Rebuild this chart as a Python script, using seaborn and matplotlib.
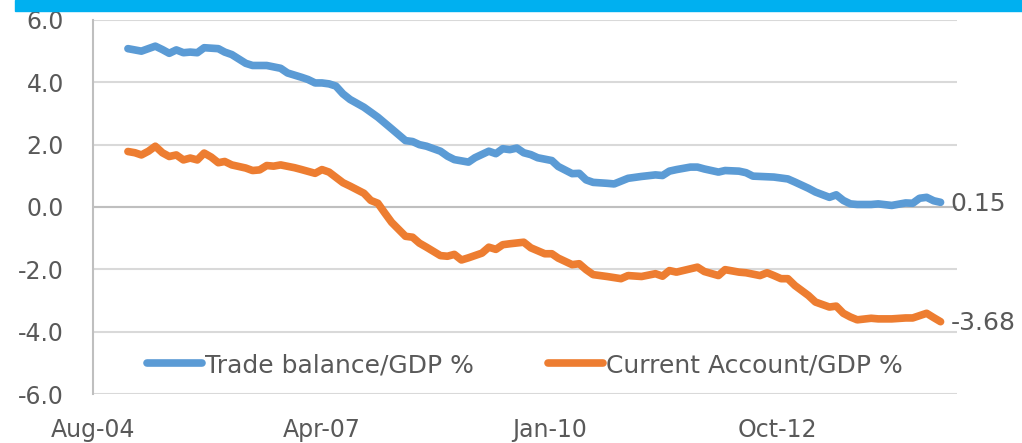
import pandas as pd
import numpy as np
import seaborn as sns
import matplotlib.pyplot as plt
from matplotlib.patches import Rectangle

# values (monthly, % of GDP)
trade_months = ["2005-01","2005-03","2005-05","2005-06","2005-07","2005-08","2005-09","2005-10",
                "2005-11","2005-12","2006-02","2006-03","2006-04","2006-06","2006-07","2006-09",
                "2006-11","2006-12","2007-02","2007-03","2007-04","2007-05","2007-06","2007-07",
                "2007-08","2007-09","2007-11","2008-01","2008-03","2008-05","2008-06","2008-07",
                "2008-08","2008-10","2008-11","2008-12","2009-02","2009-03","2009-05","2009-06",
                "2009-07","2009-08","2009-09","2009-10","2009-11","2009-12","2010-02","2010-03",
                "2010-05","2010-06","2010-07","2010-08","2010-10","2010-11","2011-01","2011-03",
                "2011-05","2011-06","2011-07","2011-08","2011-10","2011-11","2011-12","2012-02",
                "2012-03","2012-05","2012-06","2012-07","2012-08","2012-10","2012-12","2013-01",
                "2013-03","2013-04","2013-06","2013-07","2013-08","2013-09","2013-10","2013-12",
                "2014-01","2014-03","2014-05","2014-06","2014-07","2014-08","2014-09","2014-10"]
trade_vals = [5.08,5.00,5.16,5.05,4.93,5.04,4.95,4.97,
              4.95,5.11,5.08,4.97,4.89,4.61,4.54,4.54,
              4.45,4.30,4.16,4.09,3.98,3.98,3.95,3.88,
              3.63,3.45,3.20,2.88,2.51,2.13,2.10,2.00,
              1.95,1.79,1.63,1.52,1.44,1.58,1.79,1.71,
              1.87,1.84,1.89,1.74,1.68,1.58,1.49,1.30,
              1.07,1.08,0.87,0.79,0.76,0.74,0.92,0.98,
              1.03,1.01,1.15,1.20,1.28,1.28,1.22,1.12,
              1.17,1.15,1.10,0.99,0.98,0.96,0.90,0.80,
              0.60,0.48,0.31,0.39,0.21,0.10,0.08,0.08,
              0.10,0.05,0.13,0.12,0.28,0.31,0.20,0.15]

ca_months = ["2005-01","2005-02","2005-03","2005-04","2005-05","2005-06","2005-07","2005-08",
             "2005-09","2005-10","2005-11","2005-12","2006-01","2006-02","2006-03","2006-04",
             "2006-06","2006-07","2006-08","2006-09","2006-10","2006-11","2007-01","2007-02",
             "2007-04","2007-05","2007-06","2007-08","2007-09","2007-11","2007-12","2008-01",
             "2008-02","2008-03","2008-05","2008-06","2008-07","2008-08","2008-10","2008-11",
             "2008-12","2009-01","2009-02","2009-04","2009-05","2009-06","2009-07","2009-08",
             "2009-10","2009-11","2010-01","2010-02","2010-03","2010-05","2010-06","2010-07",
             "2010-08","2010-10","2010-12","2011-01","2011-03","2011-05","2011-06","2011-07",
             "2011-08","2011-11","2011-12","2012-02","2012-03","2012-05","2012-06","2012-08",
             "2012-09","2012-10","2012-11","2012-12","2013-01","2013-03","2013-04","2013-06",
             "2013-07","2013-08","2013-09","2013-10","2013-12","2014-01","2014-03","2014-05",
             "2014-06","2014-08","2014-09","2014-10"]
ca_vals = [1.78,1.74,1.67,1.79,1.95,1.74,1.62,1.67,
           1.51,1.57,1.51,1.73,1.60,1.42,1.46,1.35,
           1.25,1.17,1.19,1.33,1.31,1.35,1.26,1.20,
           1.08,1.20,1.12,0.78,0.67,0.44,0.21,0.12,
           -0.20,-0.49,-0.94,-0.97,-1.16,-1.29,-1.56,-1.58,
           -1.52,-1.70,-1.63,-1.48,-1.29,-1.36,-1.21,-1.18,
           -1.13,-1.31,-1.50,-1.50,-1.64,-1.85,-1.82,-2.01,
           -2.17,-2.23,-2.30,-2.20,-2.23,-2.14,-2.22,-2.04,
           -2.09,-1.93,-2.07,-2.20,-2.01,-2.09,-2.11,-2.20,
           -2.11,-2.20,-2.30,-2.30,-2.52,-2.84,-3.05,-3.21,
           -3.18,-3.41,-3.53,-3.62,-3.57,-3.59,-3.59,-3.56,
           -3.56,-3.41,-3.55,-3.68]

series_names = ["Trade balance/GDP %", "Current Account/GDP %"]
colors = ["#5B9BD5", "#ED7D31"]
tick_dates = ["2004-08-01", "2007-04-28", "2010-01-22", "2012-10-18"]
tick_labels = ["Aug-04", "Apr-07", "Jan-10", "Oct-12"]

df = pd.concat([
    pd.DataFrame({"date": pd.to_datetime(trade_months), "value": trade_vals, "series": series_names[0]}),
    pd.DataFrame({"date": pd.to_datetime(ca_months), "value": ca_vals, "series": series_names[1]}),
])

sns.set_style("white")
plt.rcParams["font.family"] = ["DejaVu Sans"]
txt = "#595959"

fig = plt.figure(figsize=(10.22, 4.43), dpi=100)
ax = fig.add_axes([0.091, 0.1106, 0.8454, 0.8443])

sns.lineplot(data=df, x="date", y="value", hue="series", palette=colors,
             linewidth=5.5, solid_capstyle="round", ax=ax, legend=False)

ax.set_ylim(-6, 6)
ax.set_xlim(pd.Timestamp("2004-08-01"), pd.Timestamp("2004-08-01") + pd.Timedelta(days=3785))
ax.set_yticks(np.arange(-6, 6.1, 2))
ax.set_yticklabels([f"{v:.1f}" for v in np.arange(-6, 6.1, 2)])
ax.set_xticks(pd.to_datetime(tick_dates))
ax.set_xticklabels(tick_labels)
ax.tick_params(axis="y", length=0, pad=21, labelsize=17, labelcolor=txt)
ax.tick_params(axis="x", length=0, pad=17, labelsize=17, labelcolor=txt)
ax.set_xlabel("")
ax.set_ylabel("")

ax.grid(axis="y", color="#D9D9D9", linewidth=1.5)
ax.axhline(0, color="#BFBFBF", linewidth=1.5, zorder=1)
for s in ["top", "right", "bottom"]:
    ax.spines[s].set_visible(False)
ax.spines["left"].set_color("#BFBFBF")
ax.spines["left"].set_linewidth(1.5)

# last value labels
for months, vals in [(trade_months, trade_vals), (ca_months, ca_vals)]:
    ax.annotate(f"{vals[-1]:.2f}", xy=(pd.Timestamp(months[-1]), vals[-1]),
                xytext=(7, -1), textcoords="offset points", va="center", ha="left",
                fontsize=18, color=txt, annotation_clip=False)

handles = [plt.Line2D([], [], color=c, linewidth=5.5, solid_capstyle="round") for c in colors]
ax.legend(handles, series_names, loc="center left", bbox_to_anchor=(0.062, 0.0775), ncol=2,
          frameon=False, fontsize=18, labelcolor=txt, handlelength=2.2, handletextpad=0.12,
          columnspacing=3.0, borderaxespad=0, borderpad=0)

# cyan banner on top
fig.patches.append(Rectangle((15 / 1022, 1 - 11 / 443), 1, 11 / 443, transform=fig.transFigure,
                             color="#00B0F0", zorder=10))

fig.savefig("out.png", dpi=100)
